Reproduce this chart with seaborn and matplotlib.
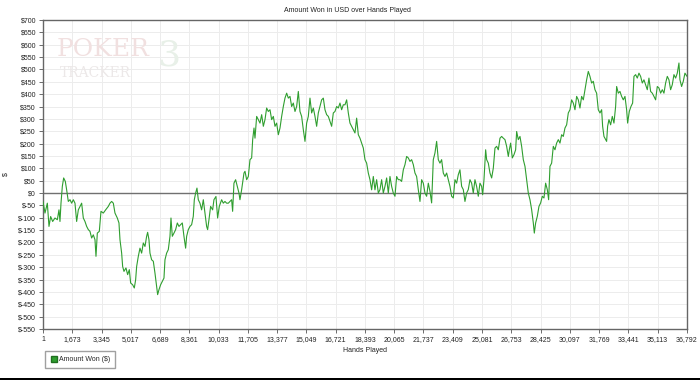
import numpy as np
import pandas as pd
import seaborn as sns
import matplotlib.pyplot as plt
from matplotlib.lines import Line2D
from matplotlib.patches import Rectangle

# ------------------ Data ------------------
hands = [
    1, 115, 248, 343, 438, 553, 686, 819, 914, 971, 1029, 1105, 1181, 1276, 1352,
    1447, 1543, 1638, 1733, 1828, 1923, 2019, 2114, 2209, 2304, 2399, 2495, 2590,
    2685, 2780, 2875, 2971, 3028, 3104, 3218, 3313, 3447, 3580, 3732, 3827, 3923,
    4018, 4113, 4246, 4341, 4399, 4494, 4551, 4627, 4741, 4836, 4932, 5008, 5122,
    5217, 5293, 5351, 5446, 5541, 5636, 5731, 5827, 5922, 5979, 6055, 6112, 6207,
    6303, 6398, 6493, 6550, 6626, 6721, 6817, 6912, 6969, 7064, 7159, 7255, 7312,
    7388, 7483, 7578, 7674, 7769, 7864, 7959, 8054, 8149, 8207, 8302, 8397, 8492,
    8587, 8645, 8721, 8797, 8873, 8968, 9063, 9159, 9254, 9349, 9406, 9482, 9577,
    9692, 9767, 9882, 9977, 10072, 10206, 10301, 10396, 10491, 10587, 10682, 10777,
    10834, 10910, 11005, 11101, 11196, 11253, 11350, 11483, 11541, 11636, 11731,
    11826, 11921, 11979, 12055, 12112, 12207, 12302, 12397, 12493, 12588, 12683,
    12778, 12873, 12969, 13064, 13159, 13254, 13349, 13445, 13540, 13635, 13730,
    13825, 13921, 14016, 14111, 14206, 14301, 14397, 14492, 14587, 14682, 14777,
    14873, 14968, 15063, 15158, 15253, 15349, 15444, 15539, 15634, 15729, 15825,
    15920, 16015, 16110, 16205, 16301, 16396, 16491, 16586, 16681, 16777, 16872,
    16967, 17062, 17157, 17253, 17348, 17443, 17538, 17633, 17729, 17824, 17919,
    18014, 18109, 18205, 18300, 18395, 18490, 18585, 18681, 18776, 18871, 18966,
    19061, 19157, 19252, 19347, 19442, 19537, 19633, 19728, 19823, 19918, 20013,
    20109, 20204, 20299, 20394, 20489, 20585, 20680, 20775, 20870, 20965, 21061,
    21156, 21251, 21346, 21441, 21537, 21632, 21727, 21822, 21917, 22013, 22108,
    22203, 22298, 22393, 22489, 22584, 22679, 22774, 22869, 22965, 23060, 23155,
    23250, 23345, 23441, 23536, 23631, 23726, 23821, 23917, 24012, 24107, 24202,
    24297, 24393, 24488, 24583, 24678, 24773, 24869, 24964, 25060, 25118, 25194,
    25289, 25346, 25441, 25536, 25632, 25727, 25822, 25917, 26012, 26108, 26203,
    26298, 26393, 26488, 26584, 26641, 26717, 26812, 26907, 27002, 27060, 27155,
    27250, 27345, 27440, 27536, 27631, 27726, 27821, 27916, 28012, 28069, 28145,
    28240, 28335, 28430, 28526, 28621, 28716, 28811, 28887, 28964, 29059, 29154,
    29249, 29344, 29440, 29535, 29630, 29725, 29820, 29916, 30011, 30106, 30201,
    30296, 30392, 30487, 30582, 30677, 30772, 30868, 30963, 31058, 31153, 31248,
    31344, 31439, 31534, 31629, 31724, 31820, 31915, 31972, 32048, 32143, 32200,
    32257, 32333, 32429, 32524, 32619, 32714, 32772, 32867, 32962, 33057, 33152,
    33248, 33343, 33400, 33495, 33590, 33686, 33762, 33857, 33952, 34047, 34142,
    34238, 34333, 34428, 34523, 34618, 34714, 34809, 34904, 34999, 35094, 35190,
    35285, 35380, 35475, 35570, 35666, 35761, 35856, 35951, 36046, 36142, 36237,
    36332, 36389, 36484, 36580, 36675, 36792,
]

amount_won = [
    -35, -81, -41, -135, -95, -115, -101, -108, -68, -115, -41, 27, 61, 47, 13,
    -34, -27, -41, -27, -41, -115, -68, -54, -41, -101, -115, -135, -148,
    -155, -182, -169, -189, -256, -162, -155, -74, -81, -68, -54, -41, -34,
    -41, -81, -101, -121, -189, -243, -297, -317, -303, -330, -310, -364, -371,
    -384, -351, -297, -256, -223, -243, -202, -216, -175, -159, -189, -243, -270,
    -276, -324, -377, -411, -391, -371, -357, -344, -270, -243, -229, -175, -101,
    -175, -162, -148, -121, -135, -128, -121, -175, -223, -175, -148, -135, -128,
    -94, -27, 0, 20, -27, -41, -68, -27, -81, -135, -148, -108, -54,
    -68, -27, -14, -101, -54, -27, -41, -34, -41, -41, -34, -27,
    -74, 40, 54, 27, 0, -27, 14, 81, 88, 54, 67,
    135, 142, 216, 263, 222, 310, 297, 283, 317, 270, 297,
    344, 330, 337, 297, 310, 270, 283, 236, 263, 310, 350,
    384, 404, 384, 391, 350, 364, 330, 350, 411, 330, 310,
    256, 209, 283, 310, 384, 324, 344, 310, 270, 324, 350,
    377, 384, 337, 317, 310, 290, 270, 324, 330, 350, 344,
    364, 337, 357, 357, 377, 324, 283, 270, 256, 243, 303,
    236, 222, 202, 182, 135, 121, 81, 54, 13, 67, 13,
    54, 0, 14, 54, 0, 27, 61, 0, 67, 27, 0,
    -13, 67, 54, 54, 47, 94, 115, 148, 142, 128, 135,
    115, 81, 67, 14, -34, 54, 40, 0, -13, 40, 7,
    -40, 135, 162, 209, 135, 121, 135, 81, 67, 81, 54,
    27, -13, -20, 54, 40, 74, 94, 27, 14, -34, 0,
    14, 54, 40, 0, 54, 27, -13, 40, 27, -7, 54,
    175, 135, 121, 81, 61, 101, 182, 189, 175, 222, 229,
    222, 216, 189, 148, 175, 202, 142, 155, 175, 249, 216,
    229, 189, 135, 108, 54, 0, -27, -67, -121, -162, -121,
    -94, -54, -40, -13, -20, 40, 14, -27, 108, 121, 189,
    175, 202, 216, 202, 236, 229, 263, 276, 324, 337, 377,
    364, 337, 391, 377, 344, 391, 377, 418, 458, 492, 472,
    445, 452, 418, 404, 337, 324, 337, 270, 229, 216, 209,
    270, 297, 276, 310, 283, 350, 431, 404, 411, 391, 377,
    391, 337, 283, 330, 350, 364, 472, 479, 465, 485, 472,
    445, 458, 438, 418, 465, 411, 404, 391, 377, 431, 425,
    404, 418, 404, 445, 472, 458, 418, 438, 479, 465, 485,
    526, 458, 431, 452, 485, 472,
]

x_ticks = [1, 1673, 3345, 5017, 6689, 8361, 10033, 11705, 13377, 15049, 16721,
           18393, 20065, 21737, 23409, 25081, 26753, 28425, 30097, 31769, 33441,
           35113, 36792]
y_ticks = list(range(-550, 701, 50))

df = pd.DataFrame({"Hands": hands, "Amount": amount_won})

# ------------------ Plot ------------------
sns.set_style("white")
plt.rcParams["font.family"] = ["Liberation Sans", "DejaVu Sans"]

green = "#2f9e2f"
fig = plt.figure(figsize=(7, 3.8), dpi=100)
ax = fig.add_axes([43 / 700, 1 - 329 / 380, 644 / 700, 309 / 380])

# faint PokerTracker watermark
ax.text(0.021, 0.905, "POKER", transform=ax.transAxes, fontsize=18,
        family="DejaVu Serif", color="#f1e0e0", ha="left", va="center")
ax.text(0.026, 0.83, "TRACKER", transform=ax.transAxes, fontsize=10,
        family="DejaVu Serif", color="#ece8e8", ha="left", va="center")
ax.text(0.178, 0.885, "3", transform=ax.transAxes, fontsize=26,
        family="DejaVu Serif", color="#e8f0e8", ha="left", va="center")

ax.grid(True, color="#ececec", linewidth=0.7)
ax.axhline(0, color="#707070", linewidth=1, zorder=2)

sns.lineplot(data=df, x="Hands", y="Amount", ax=ax, color=green,
             linewidth=0.8, estimator=None, zorder=3)

ax.set_xlim(1, 36792)
ax.set_ylim(-550, 700)
ax.set_xticks(x_ticks)
ax.set_xticklabels([f"{t:,}" for t in x_ticks])
ax.set_yticks(y_ticks)
ax.set_yticklabels([f"${t}" for t in y_ticks])
ax.tick_params(axis="both", labelsize=5, length=3, width=0.6,
               color="#555555", labelcolor="#222222", pad=2,
               bottom=True, left=True)

for s in ax.spines.values():
    s.set_color("#666666")
    s.set_linewidth(1)

ax.set_xlabel("Hands Played", fontsize=5, color="#222222", labelpad=3)
ax.set_ylabel("$", fontsize=5, color="#222222", labelpad=6)

fig.text(347 / 700, 1 - 11 / 380, "Amount Won in USD over Hands Played",
         fontsize=5, color="#222222", ha="center", va="center")

handle = Line2D([], [], marker="s", linestyle="none", markersize=4.5,
                markerfacecolor=green, markeredgecolor="#1f6f1f")
fig.legend([handle], ["Amount Won ($)"], loc="upper left",
           bbox_to_anchor=(42 / 700, 1 - 348 / 380), fontsize=5,
           frameon=True, fancybox=False, edgecolor="#888888",
           handletextpad=0.2, borderpad=0.7, handlelength=1)

fig.patches.append(Rectangle((0, 0), 1, 2.5 / 380, transform=fig.transFigure,
                             facecolor="black", edgecolor="none"))

fig.savefig("out.png", dpi=100)
